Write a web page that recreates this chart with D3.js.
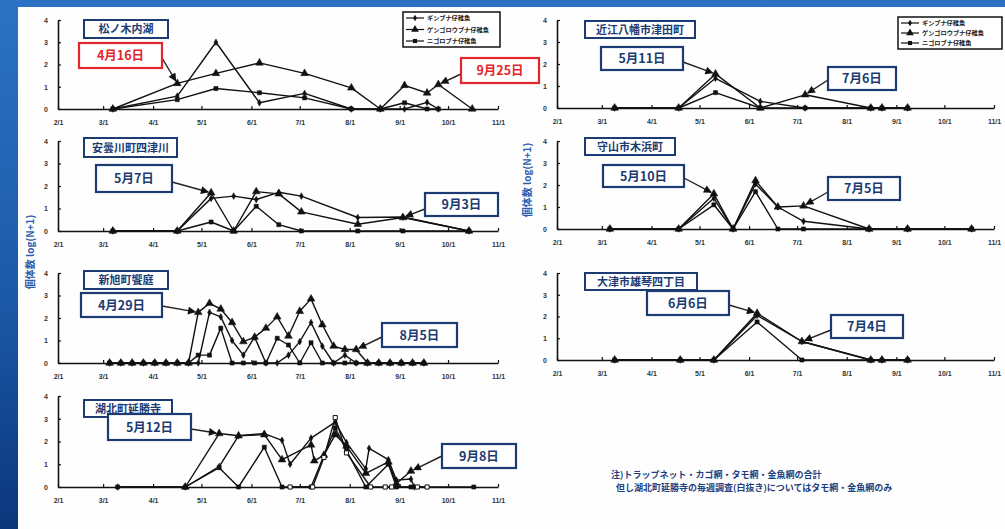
<!DOCTYPE html>
<html><head><meta charset="utf-8">
<script src="https://cdn.jsdelivr.net/npm/d3@7"></script>
<style>
body{margin:0;background:#fff;}
svg{display:block;}
</style>
</head><body>
<svg id="c" width="1005" height="529"></svg>
<script>
// ---- shared axis labels ----
const MONTH_TICKS = ["2/1","3/1","4/1","5/1","6/1","7/1","8/1","9/1","10/1","11/1"];
const Y_TICKS = [0, 1, 2, 3, 4];
const SPECIES = ["ギンブナ仔稚魚", "ゲンゴロウブナ仔稚魚", "ニゴロブナ仔稚魚"];

// ---- 松ノ木内湖 ----
const matsunoki_dates = ["3/7","4/16","5/10","6/6","7/4","8/2","8/20","9/4","9/18","9/25","10/16"];
const matsunoki_gin  = [0, 0.58, 3.0, 0.28, 0.7, 0, 0, 0, 0.3, 0, null];
const matsunoki_gen  = [0, 1.15, 1.6, 2.07, 1.6, 0.95, 0, 1.06, 0.72, 1.1, 0];
const matsunoki_nigo = [0, 0.42, 0.92, 0.73, 0.5, 0, 0, 0.28, 0, 0, null];

// ---- 近江八幡市津田町 ----
const tsuda_dates = ["3/9","4/18","5/11","6/8","7/6","8/16","8/23","9/8"];
const tsuda_gin  = [0, 0, 1.35, 0.3, 0, 0, 0, 0];
const tsuda_gen  = [0, 0, 1.55, 0, 0.6, 0, 0, 0];
const tsuda_nigo = [0, 0, 0.7, 0, 0, 0, 0, 0];

// ---- 安曇川町四津川 ----
const yotsu_dates = ["3/7","4/16","5/7","5/21","6/4","6/18","7/2","8/6","9/3","10/14"];
const yotsu_gin  = [0, 0, 1.45, 1.55, 1.4, 1.72, 1.55, 0.6, 0.62, 0];
const yotsu_gen  = [0, 0, 1.7, 0, 1.75, 1.65, 0.85, 0.3, 0.6, 0];
const yotsu_nigo = [0, 0, 0.4, 0, 1.1, 0.28, 0, 0, 0, 0];

// ---- 守山市木浜町 ----
const konohama_dates = ["3/6","4/18","5/10","5/22","6/5","6/19","7/5","8/15","9/8","10/18"];
const konohama_gin  = [0, 0, 1.4, 0, 2.05, 1.0, 0.35, 0, 0, 0];
const konohama_gen  = [0, 0, 1.6, 0, 2.2, 1.0, 1.05, 0, 0, 0];
const konohama_nigo = [0, 0, 1.1, 0, 1.7, 0, 0, 0, 0, 0];

// ---- 新旭町饗庭 (weekly) ----
const aiba_dates = ["3/5","3/12","3/19","3/26","4/2","4/9","4/16","4/23","4/29","5/6","5/13","5/20","5/27",
  "6/3","6/10","6/17","6/24","7/1","7/8","7/15","7/22","7/29","8/5","8/12","8/19","8/26","9/2","9/9","9/16"];
const aiba_gin  = [0,0,0,0,0,0,0,0, 0, 2.25, 2.05, 1.0, 0.35, 1.15, 0, 0, 0.35, 0.95, 1.8, 0.75, 0, 0.35, 0, 0,0,0,0,0,0];
const aiba_gen  = [0,0,0,0,0,0,0,0, 2.25, 2.65, 2.4, 1.8, 0.95, 1.15, 1.55, 2.05, 1.2, 2.3, 2.85, 1.7, 0.75, 0.6, 0.6, 0,0,0,0,0,0];
const aiba_nigo = [0,0,0,0,0,0,0,0, 0.35, 0.35, 1.55, 0, 0, 0, 0, 1.1, 0.8, 0, 0.9, 0, 0, 0, 0, 0,0,0,0,0,0];

// ---- 大津市雄琴四丁目 ----
const ogoto_dates = ["3/9","4/19","5/10","6/6","7/4","8/16","8/23","9/8"];
const ogoto_gin  = [0, 0, 0, 2.05, 0.85, 0, 0, 0];
const ogoto_gen  = [0, 0, 0, 2.15, 0.85, 0, 0, 0];
const ogoto_nigo = [0, 0, 0, 1.75, 0, 0, 0, 0];

// ---- 湖北町延勝寺 ----
const enshoji_gin_dates  = ["3/10","4/21","5/12","5/24","6/9","6/20","6/25","7/8","7/23","7/30","8/11","8/13","8/25","8/30","9/8","9/10"];
const enshoji_gin        = [0, 0, 0.9, 2.25, 2.35, 2.05, 1.0, 2.15, 2.85, 1.95, 0.8, 1.7, 1.2, 0.3, 0.35, 0];
const enshoji_gen_dates  = ["4/21","5/12","5/24","6/9","6/20","7/8","7/10","7/16","7/23","7/30","8/11","8/25","8/30","9/8"];
const enshoji_gen        = [0, 2.35, 2.25, 2.3, 1.2, 1.85, 1.15, 1.4, 2.3, 1.8, 0.6, 1.1, 0.15, 0.7];
const enshoji_nigo_dates = ["3/10","4/21","5/12","5/24","6/9","6/20","7/8","7/23","7/30","8/11","8/25","8/30","9/8","10/17"];
const enshoji_nigo       = [0, 0, 0.85, 0, 1.75, 0, 0, 2.6, 1.6, 0, 1.0, 0, 0, 0];
const enshoji_week_dates = ["6/25","7/9","7/16","7/23","7/30","8/14","8/23","8/27","9/12","9/18"];
const enshoji_week       = [0, 0, 1.3, 3.05, 1.5, 0, 0, 0, 0, 0];

// ---- notes ----
const NOTE_LINES = [
  "注)トラップネット・カゴ網・タモ網・金魚網の合計",
  "但し湖北町延勝寺の毎週調査(白抜き)についてはタモ網・金魚網のみ"
];
const Y_LABEL = "個体数 log(N+1)";

// ---- helpers ----
const md = s => { const [m, d] = s.split("/").map(Number); return new Date(2009, m - 1, d); };
const zip = (dates, vals) => dates.map((d, i) => ({ date: md(d), v: vals[i] }));

const NAVY = "#1b3b72", RED = "#e3262b", JP = "'Noto Sans CJK JP','Noto Sans',sans-serif";
const LAT = "'Liberation Sans',Arial,sans-serif";

// ---- site definitions (data + placement) ----
const sites = [
  { name: "松ノ木内湖", frame: [58, 498, 20, 109],
    series: [
      { sp: 0, pts: zip(matsunoki_dates, matsunoki_gin) },
      { sp: 1, pts: zip(matsunoki_dates, matsunoki_gen) },
      { sp: 2, pts: zip(matsunoki_dates, matsunoki_nigo) } ],
    titleBox: [84, 20, 84, 18],
    legend: [403, 12, 97, 35],
    callouts: [
      { label: "4月16日", date: "4/16", v: 1.15, box: [79, 43, 83, 25], from: [162, 58], red: true },
      { label: "9月25日", date: "9/25", v: 1.1, box: [461, 58, 78, 25], from: [461, 74], red: true } ] },
  { name: "近江八幡市津田町", frame: [557, 994, 20, 108],
    series: [
      { sp: 0, pts: zip(tsuda_dates, tsuda_gin) },
      { sp: 1, pts: zip(tsuda_dates, tsuda_gen) },
      { sp: 2, pts: zip(tsuda_dates, tsuda_nigo) } ],
    titleBox: [585, 21, 110, 17],
    legend: [898, 17, 104, 32],
    callouts: [
      { label: "5月11日", date: "5/11", v: 1.55, box: [601, 47, 82, 23], from: [683, 62] },
      { label: "7月6日", date: "7/6", v: 0.6, box: [828, 67, 68, 23], from: [828, 80] } ] },
  { name: "安曇川町四津川", frame: [58, 498, 141, 231],
    series: [
      { sp: 0, pts: zip(yotsu_dates, yotsu_gin) },
      { sp: 1, pts: zip(yotsu_dates, yotsu_gen) },
      { sp: 2, pts: zip(yotsu_dates, yotsu_nigo) } ],
    titleBox: [84, 138, 93, 19],
    callouts: [
      { label: "5月7日", date: "5/7", v: 1.7, box: [96, 165, 76, 27], from: [172, 182] },
      { label: "9月3日", date: "9/3", v: 0.6, box: [425, 193, 73, 23], from: [425, 209] } ] },
  { name: "守山市木浜町", frame: [557, 994, 141, 229],
    series: [
      { sp: 0, pts: zip(konohama_dates, konohama_gin) },
      { sp: 1, pts: zip(konohama_dates, konohama_gen) },
      { sp: 2, pts: zip(konohama_dates, konohama_nigo) } ],
    titleBox: [585, 138, 90, 17],
    callouts: [
      { label: "5月10日", date: "5/10", v: 1.6, box: [603, 165, 81, 22], from: [684, 178] },
      { label: "7月5日", date: "7/5", v: 1.05, box: [828, 177, 72, 23], from: [828, 192] } ] },
  { name: "新旭町饗庭", frame: [58, 498, 273, 363],
    series: [
      { sp: 0, pts: zip(aiba_dates, aiba_gin) },
      { sp: 1, pts: zip(aiba_dates, aiba_gen) },
      { sp: 2, pts: zip(aiba_dates, aiba_nigo) } ],
    titleBox: [84, 271, 84, 18],
    callouts: [
      { label: "4月29日", date: "4/29", v: 2.25, box: [81, 293, 81, 24], from: [162, 306] },
      { label: "8月5日", date: "8/5", v: 0.6, box: [382, 323, 75, 24], from: [382, 337] } ] },
  { name: "大津市雄琴四丁目", frame: [557, 994, 273, 360],
    series: [
      { sp: 0, pts: zip(ogoto_dates, ogoto_gin) },
      { sp: 1, pts: zip(ogoto_dates, ogoto_gen) },
      { sp: 2, pts: zip(ogoto_dates, ogoto_nigo) } ],
    titleBox: [585, 273, 112, 17],
    callouts: [
      { label: "6月6日", date: "6/6", v: 2.15, box: [647, 291, 82, 24], from: [729, 305] },
      { label: "7月4日", date: "7/4", v: 0.85, box: [831, 315, 72, 23], from: [831, 330] } ] },
  { name: "湖北町延勝寺", frame: [58, 498, 396, 487],
    series: [
      { sp: 0, pts: zip(enshoji_gin_dates, enshoji_gin) },
      { sp: 1, pts: zip(enshoji_gen_dates, enshoji_gen) },
      { sp: 2, pts: zip(enshoji_nigo_dates, enshoji_nigo) },
      { sp: 2, open: true, pts: zip(enshoji_week_dates, enshoji_week) } ],
    titleBox: [84, 400, 88, 17],
    callouts: [
      { label: "5月12日", date: "5/12", v: 2.35, box: [108, 414, 83, 26], from: [191, 429] },
      { label: "9月8日", date: "9/8", v: 0.7, box: [442, 444, 74, 24], from: [442, 456] } ] }
];

// ---- canvas / slide background ----
const svg = d3.select("#c");
const defs = svg.append("defs");
const bg = defs.append("linearGradient").attr("id", "bg").attr("x1", 0).attr("y1", 0).attr("x2", 0).attr("y2", 1);
bg.append("stop").attr("offset", "0%").attr("stop-color", "#2c72c4");
bg.append("stop").attr("offset", "55%").attr("stop-color", "#1c5aa8");
bg.append("stop").attr("offset", "100%").attr("stop-color", "#0b367c");
svg.append("rect").attr("width", 1005).attr("height", 529).attr("fill", "url(#bg)");
svg.append("rect").attr("x", 18).attr("y", 7).attr("width", 987).attr("height", 522).attr("fill", "#fefefe");

defs.append("marker").attr("id", "ah")
  .attr("viewBox", "0 0 10 10").attr("refX", 9).attr("refY", 5)
  .attr("markerWidth", 10).attr("markerHeight", 8)
  .attr("markerUnits", "userSpaceOnUse").attr("orient", "auto")
  .append("path").attr("d", "M0,0 L10,5 L0,10 z").attr("fill", "#111");

const symbolOf = [
  d3.symbol().type(d3.symbolDiamond).size(13),
  d3.symbol().type(d3.symbolTriangle).size(26),
  d3.symbol().type(d3.symbolSquare).size(17)
];

function drawPanel(site) {
  const [x0, x1, yTop, yBot] = site.frame;
  const x = d3.scaleTime().domain([md("2/1"), md("11/1")]).range([x0, x1]);
  const y = d3.scaleLinear().domain([0, 4]).range([yBot, yTop]);
  const g = svg.append("g");

  const xa = g.append("g").attr("transform", `translate(0,${yBot})`)
    .call(d3.axisBottom(x).tickValues(MONTH_TICKS.map(md)).tickFormat((d, i) => MONTH_TICKS[i])
      .tickSizeInner(-3).tickSizeOuter(0).tickPadding(11));
  const ya = g.append("g").attr("transform", `translate(${x0},0)`)
    .call(d3.axisLeft(y).tickValues(Y_TICKS).tickFormat(d3.format("d"))
      .tickSizeInner(-3).tickSizeOuter(0).tickPadding(10));
  [xa, ya].forEach(a => {
    a.select(".domain").attr("stroke", "#111").attr("stroke-width", 1.6);
    a.selectAll(".tick line").attr("stroke", "#111").attr("stroke-width", 1.2);
    a.selectAll(".tick text").attr("fill", "#333").attr("font-family", LAT)
      .attr("font-size", 7).attr("font-weight", "bold");
  });

  const line = d3.line().defined(d => d.v != null).x(d => x(d.date)).y(d => y(d.v));
  site.series.forEach(s => {
    const pts = s.pts.filter(d => d.v != null);
    g.append("path").datum(pts).attr("d", line)
      .attr("fill", "none").attr("stroke", "#111").attr("stroke-width", 1.4).attr("stroke-linejoin", "round");
    g.selectAll(null).data(pts).join("path")
      .attr("transform", d => `translate(${x(d.date)},${y(d.v)})`)
      .attr("d", symbolOf[s.sp])
      .attr("fill", s.open ? "#fff" : "#111")
      .attr("stroke", "#111").attr("stroke-width", s.open ? 1 : 0.5);
  });

  // site name box
  const [tx, ty, tw, th] = site.titleBox;
  g.append("rect").attr("x", tx).attr("y", ty).attr("width", tw).attr("height", th)
    .attr("fill", "#fff").attr("stroke", NAVY).attr("stroke-width", 2);
  g.append("text").attr("x", tx + tw / 2).attr("y", ty + th / 2 + 4)
    .attr("text-anchor", "middle").attr("font-family", JP).attr("font-weight", "bold")
    .attr("font-size", 11).attr("fill", NAVY).text(site.name);

  // date callouts with arrows
  site.callouts.forEach(c => {
    const col = c.red ? RED : NAVY;
    const [bx, by, bw, bh] = c.box;
    const px = x(md(c.date)), py = y(c.v);
    const [fx, fy] = c.from;
    const len = Math.hypot(px - fx, py - fy);
    const ex = px - (px - fx) / len * 3, ey = py - (py - fy) / len * 3;
    g.append("line").attr("x1", fx).attr("y1", fy).attr("x2", ex).attr("y2", ey)
      .attr("stroke", "#222").attr("stroke-width", 1.4).attr("marker-end", "url(#ah)");
    g.append("rect").attr("x", bx).attr("y", by).attr("width", bw).attr("height", bh)
      .attr("fill", "#fff").attr("stroke", col).attr("stroke-width", 2.2);
    g.append("text").attr("x", bx + bw / 2).attr("y", by + bh / 2 + 4.5)
      .attr("text-anchor", "middle").attr("font-family", JP).attr("font-weight", "bold")
      .attr("font-size", 12.5).attr("fill", col).text(c.label);
  });

  // species legend
  if (site.legend) {
    const [lx, ly, lw, lh] = site.legend;
    const lg = g.append("g");
    lg.append("rect").attr("x", lx).attr("y", ly).attr("width", lw).attr("height", lh)
      .attr("fill", "#fff").attr("stroke", "#111").attr("stroke-width", 1.5);
    SPECIES.forEach((name, i) => {
      const ry = ly + 6 + i * (lh - 12) / 2;
      lg.append("line").attr("x1", lx + 3).attr("x2", lx + 21).attr("y1", ry).attr("y2", ry)
        .attr("stroke", "#111").attr("stroke-width", 1.2);
      lg.append("path").attr("transform", `translate(${lx + 12},${ry})`).attr("d", symbolOf[i]).attr("fill", "#111");
      lg.append("text").attr("x", lx + 24).attr("y", ry + 2.3)
        .attr("font-family", JP).attr("font-size", 6.2).attr("font-weight", "bold")
        .attr("fill", "#222").text(name);
    });
  }
}

sites.forEach(drawPanel);

// y-axis titles
[[30, 252], [527, 180]].forEach(([cx, cy]) => {
  svg.append("text").attr("transform", `translate(${cx},${cy}) rotate(-90)`)
    .attr("text-anchor", "middle").attr("dy", "0.35em")
    .attr("font-family", JP).attr("font-weight", "bold").attr("font-size", 10)
    .attr("fill", "#2a5cae").text(Y_LABEL);
});

// footnote
NOTE_LINES.forEach((t, i) => {
  svg.append("text").attr("x", i === 0 ? 611 : 616).attr("y", 478 + i * 12.5)
    .attr("font-family", JP).attr("font-weight", "bold").attr("font-size", 9)
    .attr("fill", "#1f3f80").text(t);
});
</script>
</body></html>
